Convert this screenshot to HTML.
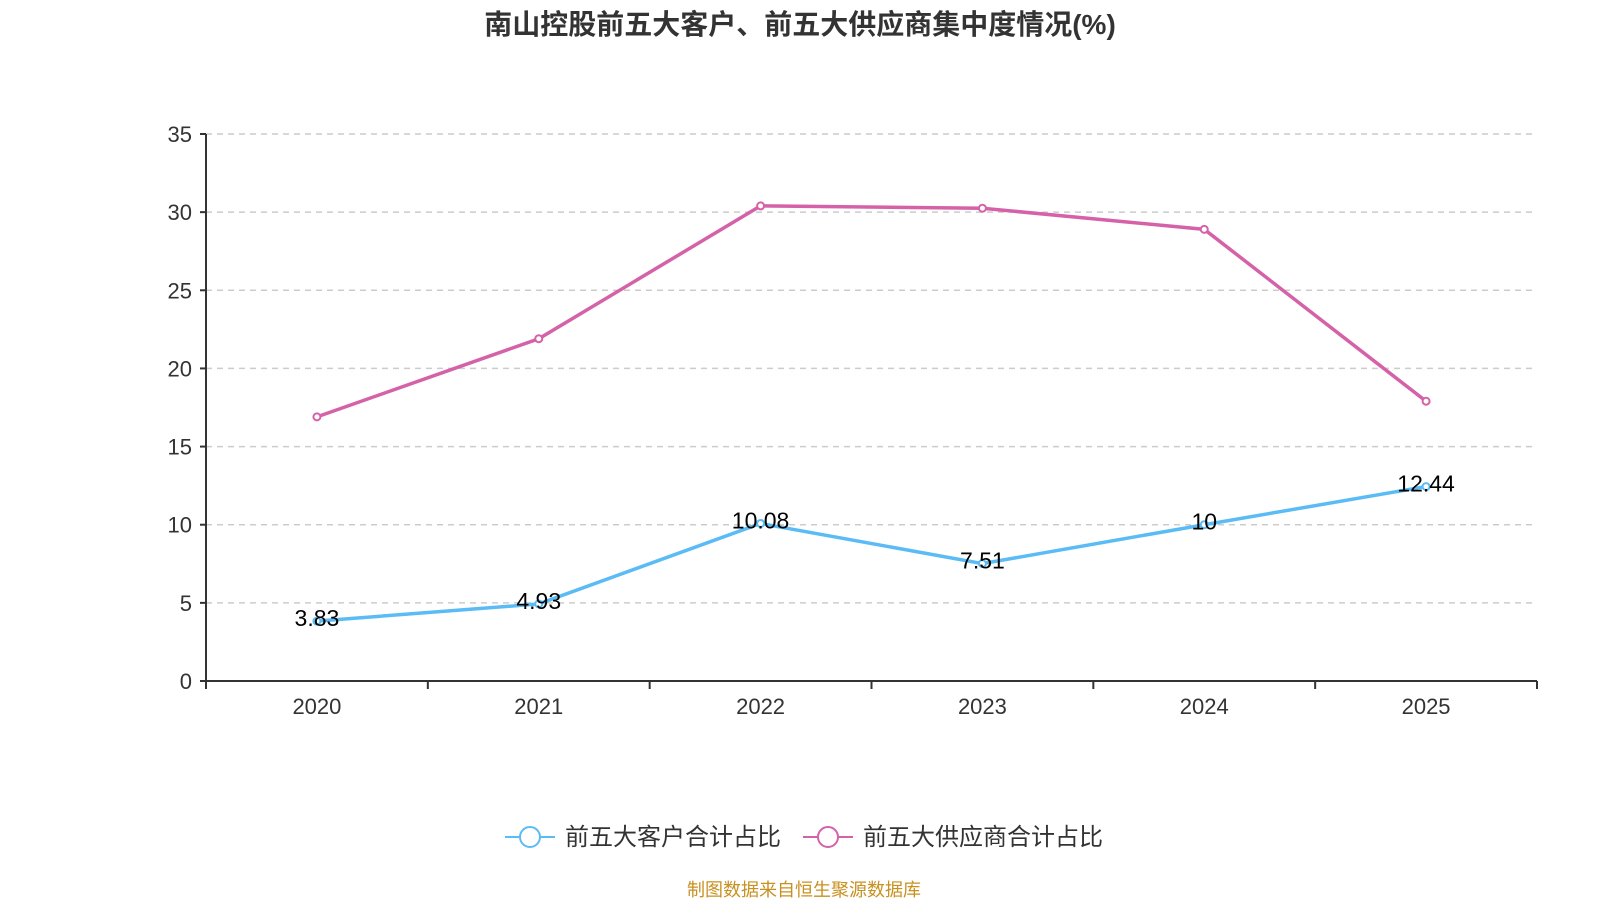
<!DOCTYPE html>
<html><head><meta charset="utf-8"><style>
body{margin:0;width:1600px;height:900px;background:#fff;overflow:hidden}
svg{font-family:"Liberation Sans","Noto Sans CJK SC",sans-serif}
</style></head><body>
<svg id="c" width="1600" height="900">
<text x="800" y="34" text-anchor="middle" font-size="28" font-weight="bold" fill="#333">南山控股前五大客户、前五大供应商集中度情况(%)</text>
<g id="grid"></g><g id="axes"></g><g id="series"></g>
<g>
<line x1="505" y1="837" x2="555" y2="837" stroke="#5bbcf5" stroke-width="2"/>
<circle cx="530" cy="837" r="10" fill="#fff" stroke="#5bbcf5" stroke-width="2"/>
<text x="565" y="845" font-size="24" fill="#333">前五大客户合计占比</text>
<line x1="803" y1="837" x2="853" y2="837" stroke="#d562a8" stroke-width="2"/>
<circle cx="828" cy="837" r="10" fill="#fff" stroke="#d562a8" stroke-width="2"/>
<text x="863" y="845" font-size="24" fill="#333">前五大供应商合计占比</text>
</g>
<text x="804" y="896" text-anchor="middle" font-size="18" fill="#c8901f">制图数据来自恒生聚源数据库</text>
</svg>
<script>
const categories=["2020","2021","2022","2023","2024","2025"];
const customers=[3.83,4.93,10.08,7.51,10,12.44];
const suppliers=[16.9,21.9,30.4,30.25,28.9,17.9];
const yTicks=[0,5,10,15,20,25,30,35];
const NS="http://www.w3.org/2000/svg";
const L=206,R=1537,T=134,B=681,yMax=35;
const bw=(R-L)/categories.length;
const x=i=>L+bw*(i+0.5);
const y=v=>B-(v/yMax)*(B-T);
function mk(p,t,a){const e=document.createElementNS(NS,t);for(const k in a)e.setAttribute(k,a[k]);p.appendChild(e);return e;}
const g=document.getElementById('grid'),ax=document.getElementById('axes'),s=document.getElementById('series');
yTicks.forEach(v=>{
 if(v>0){const l=mk(g,'line',{x1:L,x2:R,y1:y(v),y2:y(v),stroke:'#ccc','stroke-width':1.5,'stroke-dasharray':'6,5'});
 
 }
 mk(ax,'line',{x1:L-6,x2:L,y1:y(v),y2:y(v),stroke:'#333','stroke-width':2});
 const t=mk(ax,'text',{x:L-14,y:y(v)+8,'text-anchor':'end','font-size':22,fill:'#333'});t.textContent=v;
 
 
});
mk(ax,'line',{x1:L,x2:L,y1:T,y2:B,stroke:'#333','stroke-width':2});
mk(ax,'line',{x1:L,x2:R,y1:B,y2:B,stroke:'#333','stroke-width':2});
for(let i=0;i<=categories.length;i++)mk(ax,'line',{x1:L+bw*i,x2:L+bw*i,y1:B,y2:B+8,stroke:'#333','stroke-width':2});
categories.forEach((c,i)=>{const t=mk(ax,'text',{x:x(i),y:B+33,'text-anchor':'middle','font-size':22,fill:'#333'});t.textContent=c;
 
 });
function series(d,col,name,labels){
 const p=mk(s,'polyline',{points:d.map((v,i)=>x(i)+','+y(v)).join(' '),fill:'none',stroke:col,'stroke-width':3.5});
 
 
 d.forEach((v,i)=>{const c=mk(s,'circle',{cx:x(i),cy:y(v),r:3.5,fill:'#fff',stroke:col,'stroke-width':2});
  
  
  if(labels){const t=mk(s,'text',{x:x(i),y:y(v)+5,'text-anchor':'middle','font-size':23,fill:'#000'});t.textContent=v;
  
  }});
}
series(suppliers,'#d562a8','suppliers',false);
series(customers,'#5bbcf5','customers',true);
</script>
</body></html>
